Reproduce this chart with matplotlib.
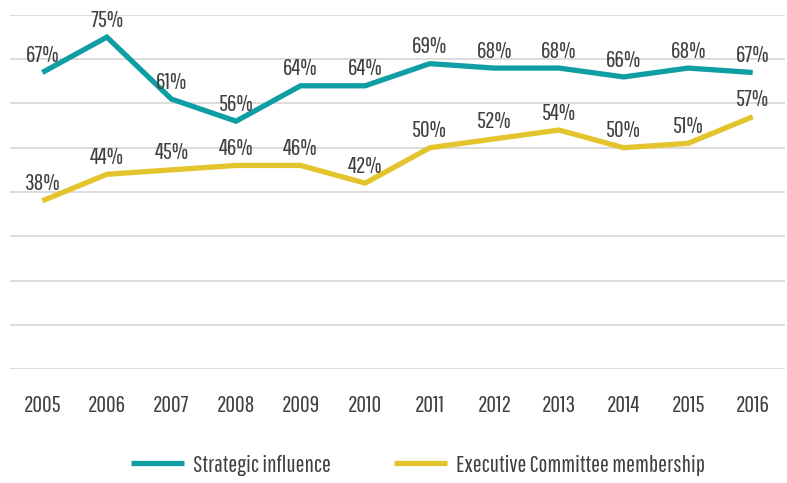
import matplotlib.pyplot as plt
from matplotlib import font_manager

years = ['2005', '2006', '2007', '2008', '2009', '2010',
         '2011', '2012', '2013', '2014', '2015', '2016']
strategic = [67, 75, 61, 56, 64, 64, 69, 68, 68, 66, 68, 67]
exec_committee = [38, 44, 45, 46, 46, 42, 50, 52, 54, 50, 51, 57]

names = {f.name for f in font_manager.fontManager.ttflist}
fam = 'Pathway Gothic One' if 'Pathway Gothic One' in names else 'DejaVu Sans'
plt.rcParams['font.family'] = [fam, 'DejaVu Sans']

teal = '#109ea5'
yellow = '#e4c42c'
txt = '#404040'

fig = plt.figure(figsize=(7.87, 4.83), dpi=100)
ax = fig.add_axes([0.0127, 0.236, 0.9848, 0.733])

x = range(len(years))
ax.plot(x, strategic, color=teal, lw=3.8, solid_joinstyle='miter',
        solid_capstyle='butt', label='Strategic influence', zorder=3)
ax.plot(x, exec_committee, color=yellow, lw=3.8, solid_joinstyle='miter',
        solid_capstyle='butt', label='Executive Committee membership', zorder=3)

# value labels above each point
for series in (strategic, exec_committee):
    for i, v in enumerate(series):
        ax.annotate(f'{v}%', (i, v), xytext=(0, 7.5), textcoords='offset points',
                    ha='center', va='baseline', fontsize=17, color=txt)

ax.set_xlim(-0.5, len(years) - 0.5)
ax.set_ylim(0, 80)
ax.set_yticks(range(0, 81, 10))
ax.yaxis.grid(True, color='#d9d9d9', lw=1.3)
ax.set_axisbelow(True)
ax.tick_params(axis='y', left=False, labelleft=False)
ax.set_xticks(list(x))
ax.set_xticklabels(years, fontsize=17, color=txt)
ax.tick_params(axis='x', length=0, pad=19)
for s in ax.spines.values():
    s.set_visible(False)

fig.legend(loc='center', bbox_to_anchor=(0.531, 0.037), ncol=2, frameon=False,
           fontsize=17, labelcolor=txt, handlelength=2.25, columnspacing=2.7,
           handletextpad=0.35)

fig.savefig('out.png', dpi=100)
